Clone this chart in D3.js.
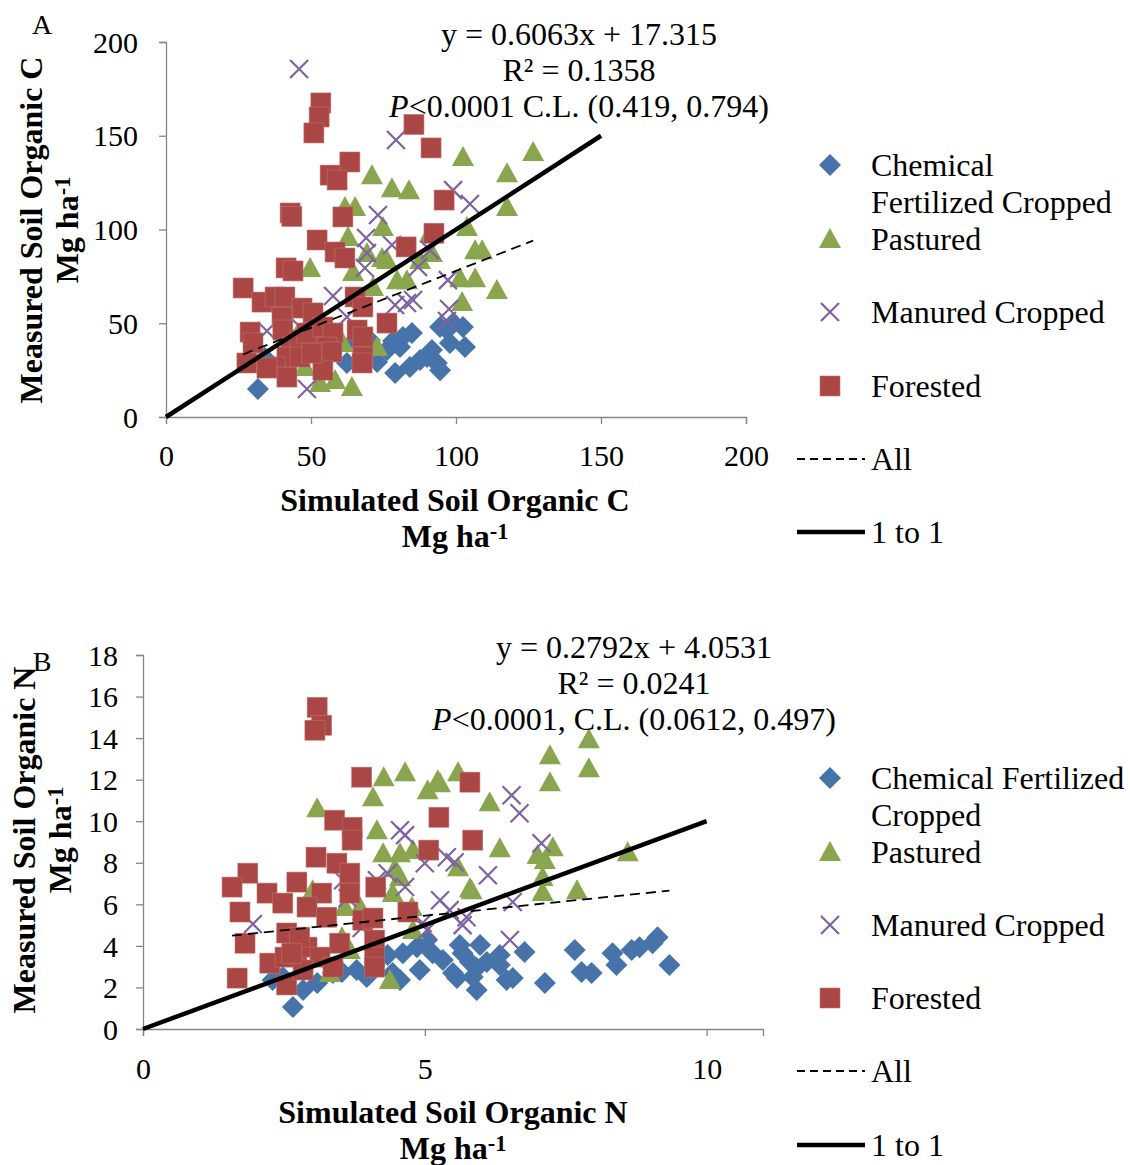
<!DOCTYPE html>
<html>
<head>
<meta charset="utf-8">
<script src="https://cdn.jsdelivr.net/npm/d3@7"></script>
<style>
  body { margin: 0; background: #fff; }
  svg { display: block; font-family: "Liberation Serif", "Times New Roman", serif; }
</style>
</head>
<body>
<svg id="chart" width="1130" height="1165"></svg>
<script>
// ---- data ----
var seriesNames = ['Chemical Fertilized Cropped', 'Pastured', 'Manured Cropped', 'Forested']

// panel A: soil organic C, Mg/ha  [simulated, measured]
var chemA = [[31.7,14.9],[34.1,31.5],[42.8,38.4],[56.6,38.4],[62.4,28.8],[65.2,41],[70.3,41],[71.4,34.7],
  [72.8,29.3],[76.2,35.7],[78.3,40.5],[79,23.5],[80.7,37.3],[81.7,42.7],[84.1,26.7],[84.8,44.8],[87.6,30.4],
  [90,32],[91.7,35.7],[93.4,28.8],[94.5,25],[94.5,48],[96.9,46.4],[97.9,39.5],[99,50.1],[102.4,48],[103.1,37.3]]
var pastA = [[102.4,138.7],[126.6,141.3],[71,129],[117.6,130],[77.9,122],[83.8,121],[61.7,112],[65.2,112],
  [117.6,112],[103.8,101.3],[91,98],[62.8,96],[74.8,101.3],[106.6,89],[109,89],[69.3,87.5],[74.5,84.8],
  [76.2,83.7],[87.6,83.7],[91.7,87.5],[49.7,79.5],[64.5,77.3],[83.1,73],[79.7,73],[101.4,74],[106.6,74],
  [114.1,67.7],[102.1,61.3],[71.4,69.3],[45.2,43.7],[61,39.5],[72.8,37.3],[47.9,26.7],[53.1,18.1],[58.3,19.7],[64.1,16]]
var manA = [[45.9,185.6],[79.3,147.7],[99,121],[104.8,113.6],[73.1,107.7],[69,95.5],[69.3,87.5],[68.6,79.5],
  [77.9,91.7],[91,89],[86.9,80],[97.2,73],[57.6,64.5],[62.4,53.3],[79,59.7],[83.1,60.8],[85.2,62.4],
  [97.6,57.6],[96.9,51.2],[48.6,14.9],[34.8,45.9],[46.2,48]]
var forA = [[53.4,167.5],[52.8,160],[51,151.5],[85.5,156],[91.4,143.5],[63.4,136],[56.6,129],[59,126.4],
  [95.9,115.7],[42.8,108.8],[43.4,107],[61,106.7],[52.1,94.4],[58.3,88],[61.7,84.8],[82.8,90.7],[92.4,98],
  [41.4,79.5],[43.8,77.9],[26.6,68.8],[33.1,61.3],[37.6,64],[41,64],[46.9,58.1],[50.7,55.5],[65.2,64],
  [67.9,58.7],[76.2,50.1],[29,45.3],[30,39.5],[27.9,28.8],[40,53.3],[40.3,46.4],[43.4,37.3],[41.7,32],
  [46.2,41],[48.6,44.8],[54.1,48],[57.6,44.8],[55.5,37.3],[57.2,34.7],[37.6,26.7],[41.7,21.3],[54.1,25],
  [65.9,46.4],[67.9,42.7],[67.9,32],[67.6,28.8],[34.8,26.1],[46.2,32],[50.3,34.1]]

// panel B: soil organic N, Mg/ha
var chemB = [[2.66,1.06],[2.3,2.36],[2.48,2.5],[2.84,1.88],[3.09,2.21],[3.37,2.69],[3.79,2.84],[3.97,2.5],
  [4.43,2.69],[4.56,2.36],[4.91,2.84],[5.14,3.65],[5.32,3.32],[5.5,2.69],[5.67,3.65],[5.85,2.5],[4.61,3.65],
  [4.86,3.94],[5.04,4.28],[5.62,4.04],[5.98,4.04],[6.33,3.56],[6.77,3.7],[5.8,3.22],[6.1,3.22],[6.33,3.08],
  [5.57,2.45],[5.92,2.93],[6.45,2.36],[6.56,2.45],[5.92,1.88],[7.13,2.21],[7.66,3.8],[7.78,2.74],[7.96,2.69],
  [8.33,3.65],[8.4,3.08],[8.67,3.8],[8.81,3.94],[9.04,4.13],[9.13,4.42],[9.34,3.08],[4.34,3.56],[3.53,2.74]]
var pastB = [[3.09,10.63],[4.27,12.12],[4.65,12.36],[5.05,11.49],[5.23,11.97],[5.59,12.36],[4.08,11.15],
  [4.15,9.57],[4.26,8.46],[4.56,8.46],[4.79,8.61],[4.47,7.74],[4.56,7.31],[5.8,6.78],[5.27,11.83],[6.15,10.91],
  [7.91,13.94],[7.22,13.17],[7.91,12.55],[7.22,11.88],[6.33,8.7],[7.27,8.75],[7,8.37],[7.13,8.13],[8.6,8.51],
  [5.59,7.79],[7.09,7.31],[5.83,6.68],[7.09,6.59],[7.7,6.68],[3.01,6.68],[3.58,5.87],[3.85,5.87],[3.53,4.42],
  [3.67,3.8],[4.43,6.54],[4.77,5.87],[4.79,4.76],[4.38,2.36],[3.32,2.69]]
var manB = [[1.95,5.05],[4.56,9.57],[4.65,9.33],[5.39,8.27],[5.53,8.03],[4.34,7.5],[4.65,6.83],[3.55,7.16],
  [4.15,7.16],[5.27,6.2],[5.74,5.38],[4.96,5.1],[5.04,4.76],[6.54,11.25],[6.68,10.38],[7.07,8.94],[6.12,7.4],
  [5.44,5.72],[5.67,5],[6.56,6.11],[6.51,4.28],[3.88,4.86],[5,7.98],[3.63,6.3]]
var forB = [[3.09,15.48],[3.17,14.62],[3.05,14.38],[3.88,12.12],[5.8,11.88],[5.25,10.19],[3.4,10.05],
  [3.71,9.71],[3.71,9.09],[5.85,9.09],[5.07,8.61],[3.07,8.27],[3.44,7.98],[3.67,7.5],[3.67,6.54],[4.13,6.83],
  [1.86,7.5],[1.58,6.83],[1.72,5.63],[2.2,6.54],[2.73,7.07],[3.17,6.54],[2.48,6.06],[2.91,5.87],[3.26,5.38],
  [4.7,5.63],[3.9,5.24],[4.08,5.34],[1.81,4.13],[2.25,3.17],[2.52,3.46],[2.73,3.8],[2.91,3.94],[2.55,4.62],
  [2.78,4.42],[3.49,4.13],[3.14,3.46],[3.37,2.98],[4.11,4.28],[4.11,3.46],[4.11,2.98],[1.67,2.45],[2.55,2.12],
  [2.84,2.84],[2.64,3.65]]

var xTicksA = [0, 50, 100, 150, 200]
var yTicksA = [0, 50, 100, 150, 200]
var xTicksB = [0, 5, 10]
var yTicksB = [0, 2, 4, 6, 8, 10, 12, 14, 16, 18]

var fitA = { slope: 0.6063, icpt: 17.315, from: 26.6, to: 126.6 }
var fitB = { slope: 0.2792, icpt: 4.0531, from: 1.58, to: 9.34 }
var oneToOneA = [0, 150]
var oneToOneB = [0, 10]

var eqA = ['y = 0.6063x + 17.315', 'R² = 0.1358', '<0.0001 C.L. (0.419, 0.794)']
var eqB = ['y = 0.2792x + 4.0531', 'R² = 0.0241', '<0.0001, C.L. (0.0612, 0.497)']

// ---- drawing ----
var colors = ['#4674AA', '#89A54E', '#7E62A1', '#AA4643']
var svg = d3.select('#chart')

function marker(g, kind, x, y) {
  if (kind === 0) {
    g.append('path').attr('d', 'M0,-11L11,0L0,11L-11,0Z')
      .attr('transform', 'translate(' + x + ',' + y + ')').attr('fill', colors[0])
  } else if (kind === 1) {
    g.append('path').attr('d', 'M0,-11L11,9L-11,9Z')
      .attr('transform', 'translate(' + x + ',' + y + ')').attr('fill', colors[1])
  } else if (kind === 2) {
    g.append('path').attr('d', 'M-9,-9L9,9M-9,9L9,-9')
      .attr('transform', 'translate(' + x + ',' + y + ')')
      .attr('stroke', colors[2]).attr('stroke-width', 2.2).attr('fill', 'none')
  } else {
    g.append('rect').attr('x', x - 10).attr('y', y - 10).attr('width', 20).attr('height', 20)
      .attr('fill', colors[3]).attr('stroke', '#c07572').attr('stroke-width', 0.6)
  }
}

function mgLabel(sel) {
  sel.append('tspan').text('Mg ha')
  sel.append('tspan').attr('baseline-shift', '35%').attr('font-size', '70%').text('-1')
}

function drawPanel(p) {
  var x = d3.scaleLinear().domain(p.xDomain).range([p.left, p.right])
  var y = d3.scaleLinear().domain(p.yDomain).range([p.bottom, p.top])
  var g = svg.append('g')

  // axes
  var xAxis = g.append('g').attr('transform', 'translate(0,' + p.bottom + ')')
    .call(d3.axisBottom(x).tickValues(p.xTicks).tickSize(7).tickFormat(d3.format('d')))
  var yAxis = g.append('g').attr('transform', 'translate(' + p.left + ',0)')
    .call(d3.axisLeft(y).tickValues(p.yTicks).tickSize(7).tickFormat(d3.format('d')))
  ;[xAxis, yAxis].forEach(function (a) {
    a.select('.domain').attr('stroke', '#868686').attr('stroke-width', 1.3)
    a.selectAll('.tick line').attr('stroke', '#868686').attr('stroke-width', 1.3)
    a.selectAll('text').attr('font-family', '"Liberation Serif", serif').attr('font-size', 30).attr('fill', '#000')
  })
  xAxis.selectAll('text').attr('dy', null).attr('y', p.xLabelOff)
  yAxis.selectAll('text').attr('dy', '0.34em').attr('x', -p.yLabelGap)

  // points
  var pts = g.append('g')
  p.series.forEach(function (s, i) {
    s.forEach(function (d) { marker(pts, i, x(d[0]), y(d[1])) })
  })

  // lines
  var line = d3.line().x(function (d) { return x(d[0]) }).y(function (d) { return y(d[1]) })
  g.append('path').datum([[p.fit.from, p.fit.slope * p.fit.from + p.fit.icpt], [p.fit.to, p.fit.slope * p.fit.to + p.fit.icpt]])
    .attr('d', line).attr('stroke', '#000').attr('stroke-width', 1.8).attr('stroke-dasharray', '10,6').attr('fill', 'none')
  g.append('path').datum([[p.one[0], p.one[0]], [p.one[1], p.one[1]]])
    .attr('d', line).attr('stroke', '#000').attr('stroke-width', 4.5).attr('fill', 'none')

  // equation text
  var eq = g.append('g').attr('font-size', 32).attr('text-anchor', 'middle')
  eq.append('text').attr('x', p.eqX).attr('y', p.eqY).text(p.eq[0])
  eq.append('text').attr('x', p.eqX).attr('y', p.eqY + 36).text(p.eq[1])
  var t3 = eq.append('text').attr('x', p.eqX).attr('y', p.eqY + 72)
  t3.append('tspan').attr('font-style', 'italic').text('P')
  t3.append('tspan').text(p.eq[2])

  // axis titles
  var xt = g.append('g').attr('font-size', 32).attr('font-weight', 'bold').attr('text-anchor', 'middle')
  xt.append('text').attr('x', p.xTitleX).attr('y', p.xTitleY).text(p.xTitle)
  xt.append('text').attr('x', p.xTitleX).attr('y', p.xTitleY + 36).call(mgLabel)
  var yt = g.append('g').attr('font-size', 32).attr('font-weight', 'bold').attr('text-anchor', 'middle')
    .attr('transform', 'translate(' + p.yTitleX + ',' + p.yTitleY + ') rotate(-90)')
  yt.append('text').attr('x', 0).attr('y', 0).text(p.yTitle)
  yt.append('text').attr('x', 0).attr('y', 36).call(mgLabel)

  // panel letter
  g.append('text').attr('x', 42).attr('y', p.letterY).attr('font-size', 28).attr('text-anchor', 'middle').text(p.letter)

  // legend
  var lg = g.append('g').attr('font-size', 32)
  var ly = p.legendY
  p.legendRows.forEach(function (r, i) {
    marker(lg, i, 830, ly[i])
    r.forEach(function (txt, j) {
      lg.append('text').attr('x', 871).attr('y', ly[i] + 11 + j * 37).text(txt)
    })
  })
  lg.append('line').attr('x1', 797).attr('x2', 865).attr('y1', ly[4]).attr('y2', ly[4])
    .attr('stroke', '#000').attr('stroke-width', 1.8).attr('stroke-dasharray', '8,5')
  lg.append('text').attr('x', 871).attr('y', ly[4] + 11).text('All')
  lg.append('line').attr('x1', 797).attr('x2', 865).attr('y1', ly[5]).attr('y2', ly[5])
    .attr('stroke', '#000').attr('stroke-width', 4.5)
  lg.append('text').attr('x', 871).attr('y', ly[5] + 11).text('1 to 1')
}

drawPanel({
  letter: 'A', letterY: 34,
  xDomain: [0, 200], yDomain: [0, 200], left: 166, right: 746, top: 42, bottom: 417,
  xTicks: xTicksA, yTicks: yTicksA, xLabelOff: 49, yLabelGap: 28,
  series: [chemA, pastA, manA, forA], fit: fitA, one: oneToOneA,
  eq: eqA, eqX: 579, eqY: 45,
  xTitle: 'Simulated Soil Organic C', xTitleX: 455, xTitleY: 511,
  yTitle: 'Measured Soil Organic C', yTitleX: 42, yTitleY: 230,
  legendY: [165, 239, 312, 386, 459, 532],
  legendRows: [['Chemical', 'Fertilized Cropped'], ['Pastured'], ['Manured Cropped'], ['Forested']]
})

drawPanel({
  letter: 'B', letterY: 671,
  xDomain: [0, 11], yDomain: [0, 18], left: 143, right: 763, top: 655, bottom: 1029,
  xTicks: xTicksB, yTicks: yTicksB, xLabelOff: 50, yLabelGap: 25,
  series: [chemB, pastB, manB, forB], fit: fitB, one: oneToOneB,
  eq: eqB, eqX: 634, eqY: 658,
  xTitle: 'Simulated Soil Organic N', xTitleX: 453, xTitleY: 1123,
  yTitle: 'Measured Soil Organic N', yTitleX: 35, yTitleY: 840,
  legendY: [778, 852, 925, 998, 1071, 1145],
  legendRows: [['Chemical Fertilized', 'Cropped'], ['Pastured'], ['Manured Cropped'], ['Forested']]
})
</script>
</body>
</html>
